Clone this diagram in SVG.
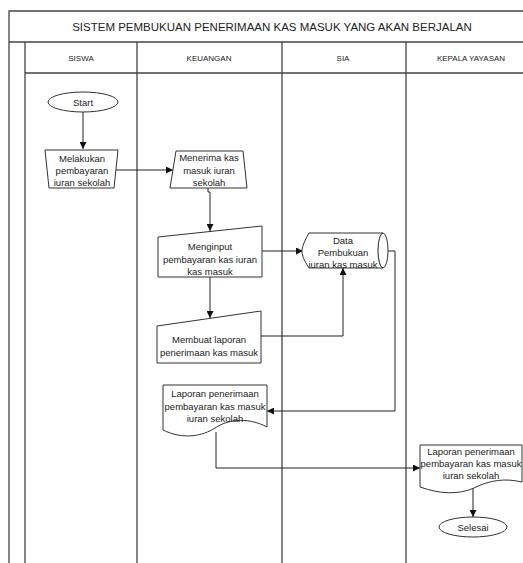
<svg xmlns="http://www.w3.org/2000/svg" width="523" height="563" viewBox="0 0 523 563">
<defs>
<marker id="arr" viewBox="0 0 10 10" refX="10" refY="5" markerWidth="7" markerHeight="7" orient="auto" markerUnits="userSpaceOnUse">
<path d="M0,0 L10,5 L0,10 Z" fill="#111"/>
</marker>
<style>
.frame{fill:none;stroke:#444;stroke-width:1.3}
.shape{fill:#fff;stroke:#333;stroke-width:1}
.conn{fill:none;stroke:#222;stroke-width:1;marker-end:url(#arr)}
.connp{fill:none;stroke:#222;stroke-width:1}
.t{font-family:"Liberation Sans",Arial,sans-serif;font-size:9.5px;fill:#222;text-anchor:middle}
.h{font-family:"Liberation Sans",Arial,sans-serif;font-size:8px;fill:#222;text-anchor:middle}
.title{font-family:"Liberation Sans",Arial,sans-serif;font-size:11.5px;fill:#222;text-anchor:middle}
</style>
</defs>
<rect width="523" height="563" fill="#fff"/>
<g id="pool">
<path class="frame" d="M9,563 V11 H523 M9,42 H523 M25,42 V563 M25,73 H523 M137,42 V563 M282,42 V563 M406,42 V563"/>
<text class="title" x="272" y="31">SISTEM PEMBUKUAN PENERIMAAN KAS MASUK YANG AKAN BERJALAN</text>
<text class="h" x="81" y="61">SISWA</text>
<text class="h" x="209" y="61">KEUANGAN</text>
<text class="h" x="343" y="61">SIA</text>
<text class="h" x="471" y="61">KEPALA YAYASAN</text>
</g>
<g id="connectors">
<path class="conn" d="M83,112 V149"/>
<path class="conn" d="M116,170 H173"/>
<path class="conn" d="M208,188 V192 H210 V231"/>
<path class="conn" d="M262,251 H303"/>
<path class="conn" d="M210,277 V318"/>
<path class="conn" d="M261,336 H343 V268"/>
<path class="conn" d="M388,251 H395 V411 H267"/>
<path class="conn" d="M216,432 V468 H420"/>
<path class="conn" d="M473,488 V517"/>
</g>
<g id="start">
<ellipse class="shape" cx="83" cy="102" rx="35" ry="10"/>
<text class="t" x="83" y="106">Start</text>
</g>
<g id="melakukan">
<polygon class="shape" points="45,150 118,150 114,188 49,188"/>
<text class="t" x="82" y="162">Melakukan</text>
<text class="t" x="82" y="174">pembayaran</text>
<text class="t" x="82" y="186">iuran sekolah</text>
</g>
<g id="menerima">
<polygon class="shape" points="176,151 243,151 247,188 170,188"/>
<text class="t" x="209" y="161">Menerima kas</text>
<text class="t" x="209" y="174">masuk iuran</text>
<text class="t" x="209" y="186">sekolah</text>
</g>
<g id="menginput">
<polygon class="shape" points="158,237 262,226 262,277 158,277"/>
<text class="t" x="210" y="250">Menginput</text>
<text class="t" x="210" y="263">pembayaran kas iuran</text>
<text class="t" x="210" y="275">kas masuk</text>
</g>
<g id="data">
<path class="shape" d="M309,233 H383 A5,17.5 0 0 1 383,268 H309 Q301,256 302,250 Q303,243 309,233 Z"/>
<path class="connp" d="M383,233 A5,17.5 0 0 0 383,268"/>
<text class="t" x="343" y="244">Data</text>
<text class="t" x="343" y="256">Pembukuan</text>
<text class="t" x="343" y="268">iuran kas masuk</text>
</g>
<g id="membuat">
<polygon class="shape" points="157,326 261,311 261,363 157,363"/>
<text class="t" x="209" y="343">Membuat laporan</text>
<text class="t" x="209" y="356">penerimaan kas masuk</text>
</g>
<g id="laporan1">
<path class="shape" d="M163,385 H267 V427 C250,418 230,418 215,428 C203,436 183,440 163,430 Z"/>
<text class="t" x="215" y="397">Laporan penerimaan</text>
<text class="t" x="215" y="410">pembayaran kas masuk</text>
<text class="t" x="215" y="422">iuran sekolah</text>
</g>
<g id="laporan2">
<path class="shape" d="M420,445 H522 V482 C505,478 490,480 474,488 C458,495 440,494 420,487 Z"/>
<text class="t" x="471" y="455">Laporan penerimaan</text>
<text class="t" x="471" y="467">pembayaran kas masuk</text>
<text class="t" x="471" y="479">iuran sekolah</text>
</g>
<g id="selesai">
<ellipse class="shape" cx="473" cy="527" rx="34" ry="10"/>
<text class="t" x="473" y="531">Selesai</text>
</g>
</svg>
